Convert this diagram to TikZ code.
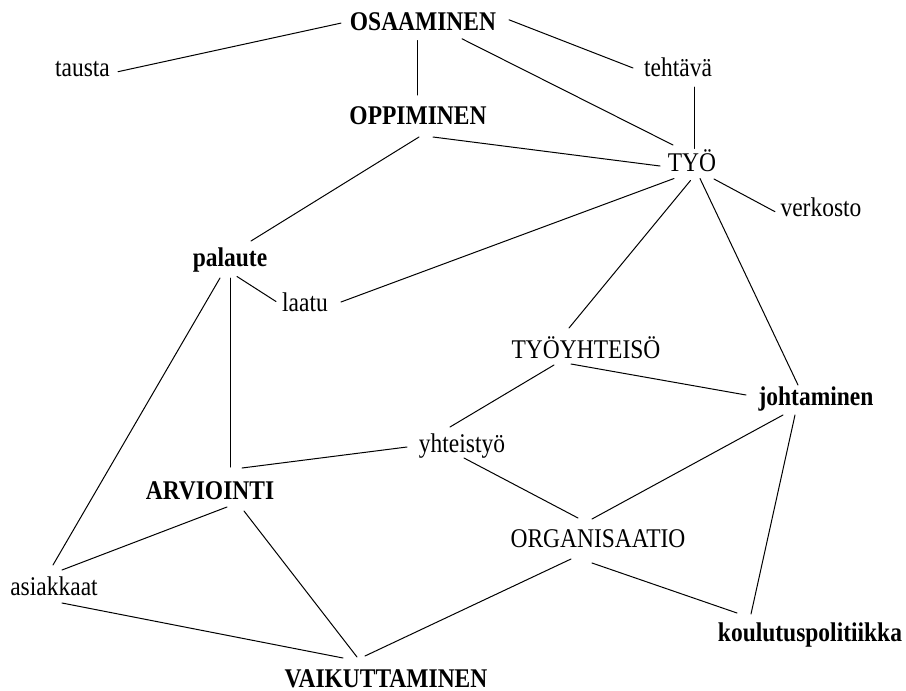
\documentclass[tikz,border=0pt]{standalone}
\usepackage{fontspec}
\newfontfamily\lblfont{Liberation Serif}[FakeStretch=0.87]
\begin{document}
\begin{tikzpicture}[x=1pt,y=-1pt,
  term/.style={inner sep=0pt, anchor=base, font=\lblfont\fontsize{27}{30}\selectfont},
  key/.style={term, font=\lblfont\bfseries\fontsize{27}{30}\selectfont},
  edge/.style={line width=1pt, line cap=round}]
\useasboundingbox (0,0) rectangle (906,691);

% concepts (placed by baseline centre)
\node[key]  (osa) at (423,30.5)  {OSAAMINEN};
\node[term] (tau) at (82.5,76.5) {tausta};
\node[term] (teh) at (678,76.5)  {tehtävä};
\node[key]  (opp) at (418,124)   {OPPIMINEN};
\node[term] (tyo) at (692,171.5) {TYÖ};
\node[term] (ver) at (821,216.5) {verkosto};
\node[key]  (pal) at (230,266.5) {palaute};
\node[term] (laa) at (305,311.5) {laatu};
\node[term] (tyh) at (586,358)   {TYÖYHTEISÖ};
\node[key]  (joh) at (816,405)   {johtaminen};
\node[term] (yht) at (462,452)   {yhteistyö};
\node[key]  (arv) at (210,499)   {ARVIOINTI};
\node[term] (org) at (598,547)   {ORGANISAATIO};
\node[term] (asi) at (54,595)    {asiakkaat};
\node[key]  (kou) at (810,641)   {koulutuspolitiikka};
\node[key]  (vai) at (386,687)   {VAIKUTTAMINEN};

% links between concepts
\draw[edge] ([shift={(35.5,-4.8)}]tau.base) -- ([shift={(-82,-7.4)}]osa.base);
\draw[edge] ([shift={(-6,10)}]osa.base) -- ([shift={(-1,-29)}]opp.base);
\draw[edge] ([shift={(39,8.3)}]osa.base) -- ([shift={(-19,-26.5)}]tyo.base);
\draw[edge] ([shift={(86,-10.7)}]osa.base) -- ([shift={(-45,-8.5)}]teh.base);
\draw[edge] ([shift={(16,10.5)}]teh.base) -- ([shift={(2,-23)}]tyo.base);
\draw[edge] ([shift={(15,13)}]opp.base) -- ([shift={(-32,-5.5)}]tyo.base);
\draw[edge] ([shift={(1,13)}]opp.base) -- ([shift={(21,-25.5)}]pal.base);
\draw[edge] ([shift={(-18,7)}]tyo.base) -- ([shift={(36,-9.5)}]laa.base);
\draw[edge] ([shift={(-1.5,9)}]tyo.base) -- ([shift={(-17,-30)}]tyh.base);
\draw[edge] ([shift={(8,7)}]tyo.base) -- ([shift={(-18,-20)}]joh.base);
\draw[edge] ([shift={(22,7.5)}]tyo.base) -- ([shift={(-46,-4.8)}]ver.base);
\draw[edge] ([shift={(7,10)}]pal.base) -- ([shift={(-29,-10)}]laa.base);
\draw[edge] ([shift={(0,11.5)}]pal.base) -- ([shift={(20,-32)}]arv.base);
\draw[edge] ([shift={(-10,11.5)}]pal.base) -- ([shift={(-1,-30)}]asi.base);
\draw[edge] ([shift={(-15,6)}]tyh.base) -- ([shift={(-70,-10)}]joh.base);
\draw[edge] ([shift={(-32,7)}]tyh.base) -- ([shift={(-12,-25)}]yht.base);
\draw[edge] ([shift={(-55,-5)}]yht.base) -- ([shift={(32,-31)}]arv.base);
\draw[edge] ([shift={(2,6)}]yht.base) -- ([shift={(-20,-29)}]org.base);
\draw[edge] ([shift={(-33,10)}]joh.base) -- ([shift={(-6,-28)}]org.base);
\draw[edge] ([shift={(-21,10)}]joh.base) -- ([shift={(-59,-27)}]kou.base);
\draw[edge] ([shift={(17,8)}]arv.base) -- ([shift={(8,-25)}]asi.base);
\draw[edge] ([shift={(34,12)}]arv.base) -- ([shift={(-29,-30)}]vai.base);
\draw[edge] ([shift={(-27,12)}]org.base) -- ([shift={(-21,-31)}]vai.base);
\draw[edge] ([shift={(-6,16)}]org.base) -- ([shift={(-73,-28)}]kou.base);
\draw[edge] ([shift={(8,8)}]asi.base) -- ([shift={(-43,-29)}]vai.base);
\end{tikzpicture}
\end{document}
